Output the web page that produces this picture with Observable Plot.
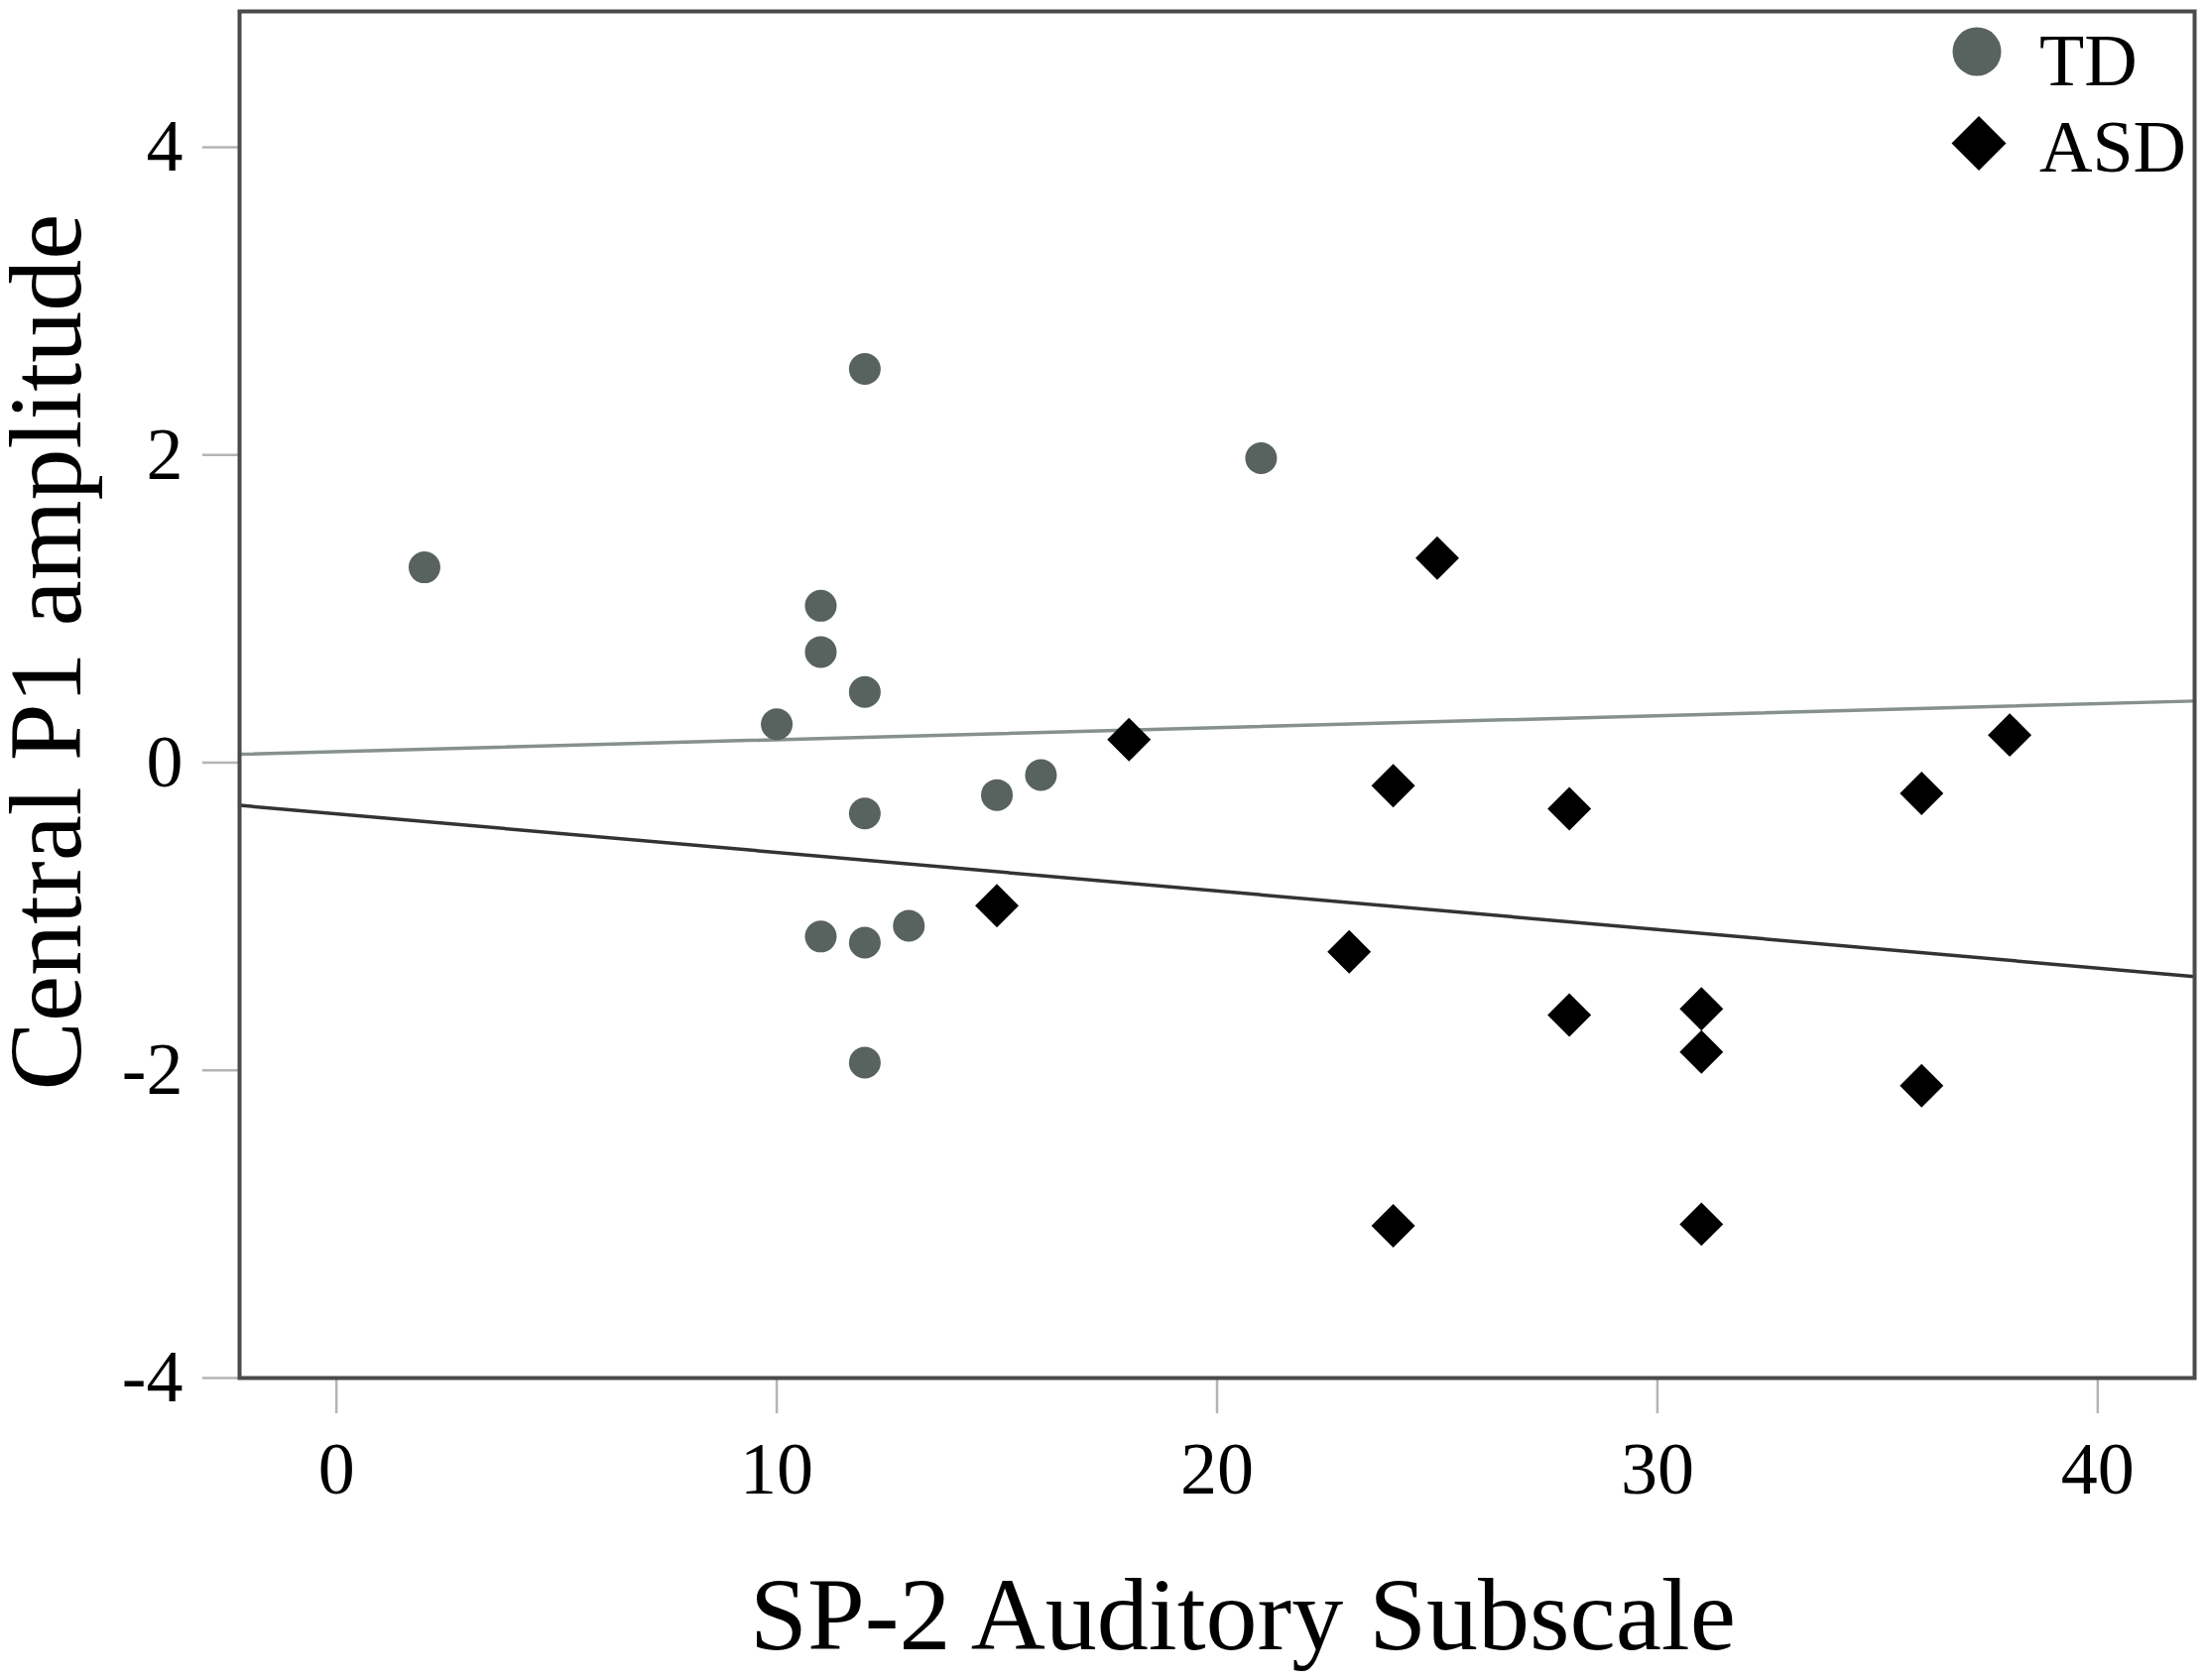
<!DOCTYPE html>
<html>
<head>
<meta charset="utf-8">
<script src="https://cdn.jsdelivr.net/npm/d3@7"></script>
<script src="https://cdn.jsdelivr.net/npm/@observablehq/plot@0.6"></script>
<style>
  html, body { margin: 0; padding: 0; background: white; }
  #wrap { position: relative; width: 2226px; height: 1694px; font-family: "Liberation Serif", serif; }
  #legend { position: absolute; left: 1950px; top: 14px; width: 260px; height: 190px; }
  #legend svg { position: absolute; left: 0; top: 0; overflow: visible; }
  #legend span { position: absolute; left: 106px; font-size: 74px; line-height: 1; color: #000; font-family: "Liberation Serif", serif; }
</style>
</head>
<body>
<div id="wrap">
  <div id="chart"></div>
  <div id="legend">
    <svg width="110" height="190">
      <circle cx="43" cy="38" r="24.5" fill="#58625e"></circle>
      <polygon points="45,103 72.5,130.5 45,158 17.5,130.5" fill="#000"></polygon>
    </svg>
    <span id="lg0" style="top:10px">TD</span>
    <span id="lg1" style="top:97px">ASD</span>
  </div>
</div>
<script>
// Groups
const groups = ["TD", "ASD"];

// TD: SP-2 Auditory Subscale (x) and Central P1 amplitude (y)
const tdX = [2, 12, 21, 11, 11, 12, 10, 12, 15, 16, 11, 12, 13, 12];
const tdY = [1.27, 2.56, 1.98, 1.02, 0.72, 0.46, 0.25, -0.33, -0.21, -0.08, -1.13, -1.17, -1.06, -1.95];

// ASD
const asdX = [25, 18, 38, 24, 28, 36, 15, 23, 28, 31, 31, 36, 24, 31];
const asdY = [1.33, 0.15, 0.18, -0.15, -0.30, -0.20, -0.93, -1.23, -1.64, -1.60, -1.88, -2.10, -3.01, -3.00];

// Axis ticks / domains
const xTicks = [0, 10, 20, 30, 40];
const yTicks = [-4, -2, 0, 2, 4];
const xDomain = [-2.2, 42.2];
const yDomain = [-4, 4.884];

const xLabel = "SP-2 Auditory Subscale";
const yLabel = "Central P1 amplitude";

const td = tdX.map((x, i) => ({group: groups[0], x, y: tdY[i]}));
const asd = asdX.map((x, i) => ({group: groups[1], x, y: asdY[i]}));

// Ordinary least squares fit of each group, drawn across the whole x domain
function fitLine(rows) {
  const mx = d3.mean(rows, d => d.x), my = d3.mean(rows, d => d.y);
  const sxy = d3.sum(rows, d => (d.x - mx) * (d.y - my));
  const sxx = d3.sum(rows, d => (d.x - mx) ** 2);
  const b = sxy / sxx, a = my - b * mx;
  return xDomain.map(x => ({x, y: a + b * x}));
}
const tdFit = fitLine(td);
const asdFit = fitLine(asd);

const font = "Liberation Serif";

const chart = Plot.plot({
  width: 2226,
  height: 1694,
  marginLeft: 241,
  marginRight: 14,
  marginTop: 11,
  marginBottom: 305,
  style: {fontFamily: font, background: "white", color: "black"},
  x: {domain: xDomain},
  y: {domain: yDomain},
  marks: [
    Plot.axisY({ticks: yTicks, tickSize: 37, tickPadding: 20, fontSize: 74, stroke: "#b4b4b4", strokeWidth: 2.5, fill: "black", label: null, tickFormat: d => String(d)}),
    Plot.axisX({ticks: xTicks, tickSize: 36, tickPadding: 28, fontSize: 74, stroke: "#b4b4b4", strokeWidth: 2.5, fill: "black", label: null}),
    Plot.line(tdFit, {x: "x", y: "y", stroke: "#86918c", strokeWidth: 3.5}),
    Plot.line(asdFit, {x: "x", y: "y", stroke: "#333333", strokeWidth: 3.5}),
    Plot.dot(td, {x: "x", y: "y", r: 16, fill: "#58625e", symbol: "circle"}),
    Plot.dot(asd, {x: "x", y: "y", r: 19.8, fill: "#000", symbol: "diamond2"}),
    Plot.frame({stroke: "#4a4a4a", strokeWidth: 4}),
    Plot.text([xLabel], {text: d => d, frameAnchor: "bottom", textAnchor: "middle", lineAnchor: "bottom", dx: 26, dy: 273, fontSize: 104, fill: "black"}),
    Plot.text([yLabel], {text: d => d, frameAnchor: "left", textAnchor: "middle", lineAnchor: "bottom", rotate: -90, dx: -161, dy: -43, fontSize: 104, fill: "black"})
  ]
});
document.getElementById("chart").appendChild(chart);
</script>
</body>
</html>
